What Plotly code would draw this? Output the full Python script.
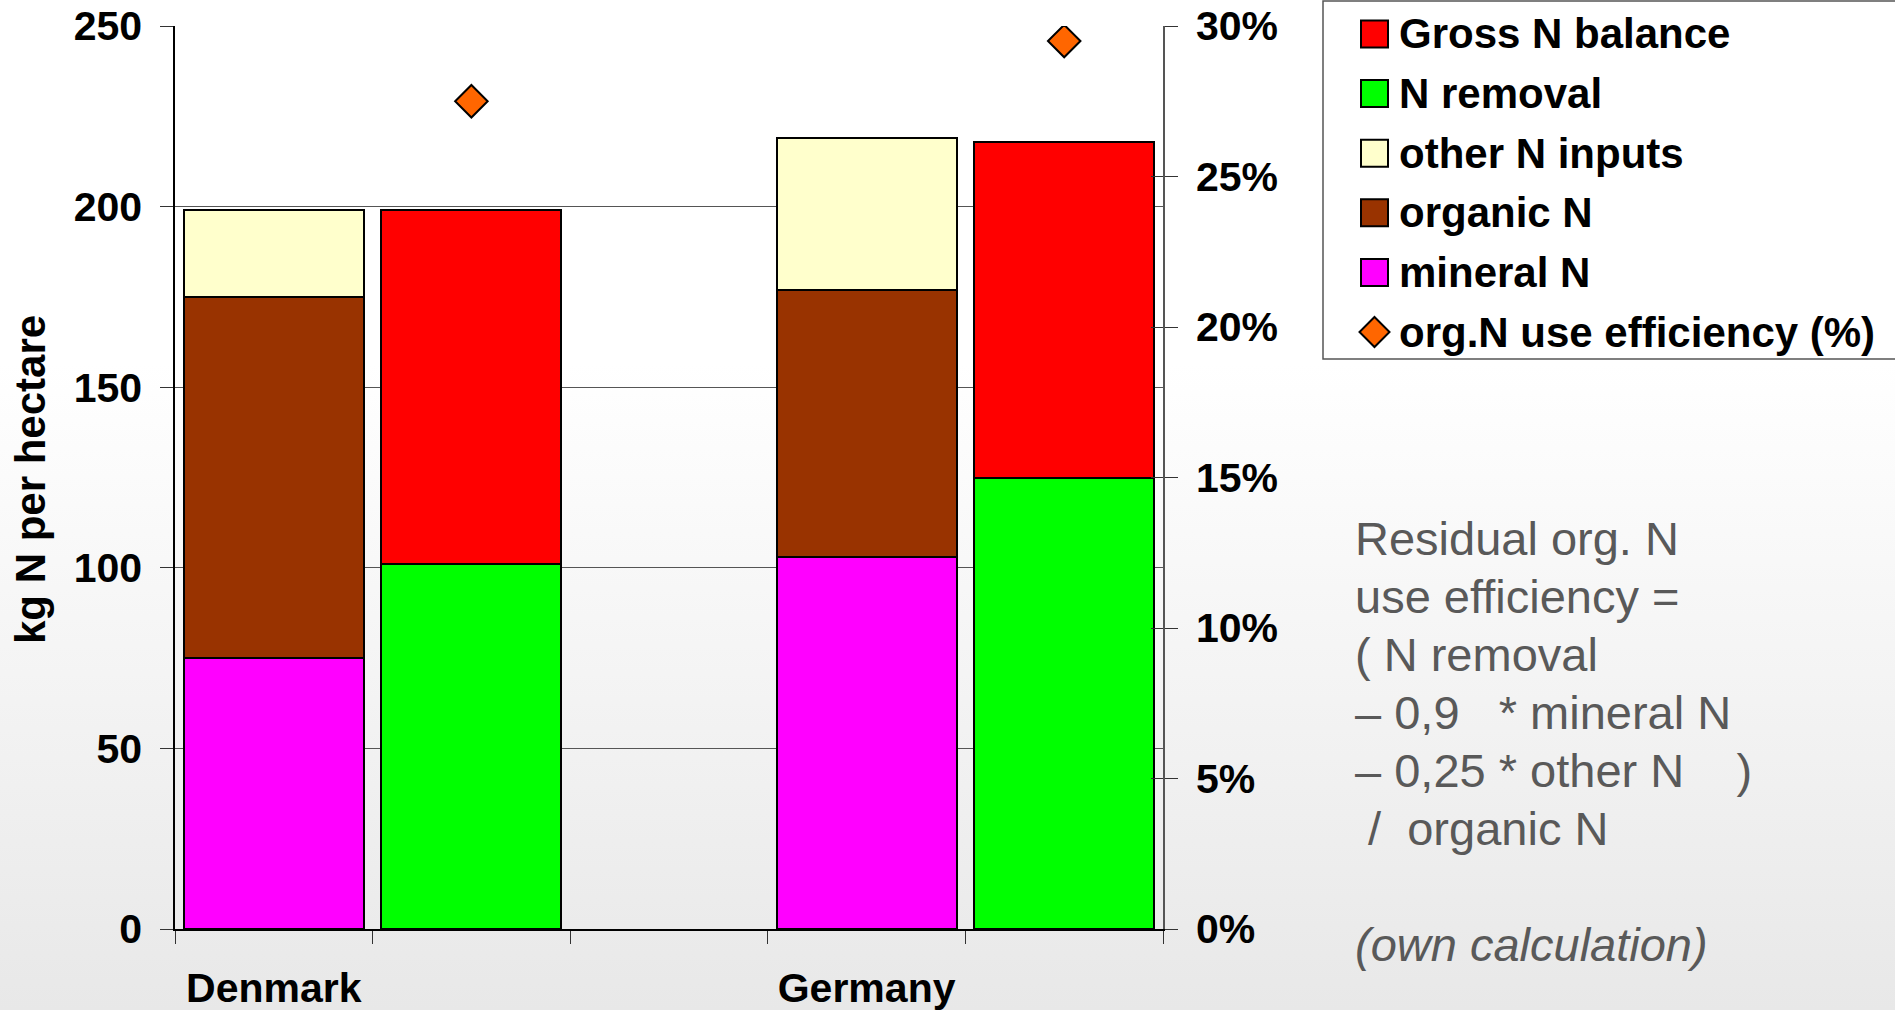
import base64
import plotly.graph_objects as go

# ---- data (kg N per hectare) ----
countries = ["Denmark", "Germany"]
mineral_n = [75, 103]
organic_n = [100, 74]
other_n = [24, 42]
n_removal = [101, 125]
gross_balance = [98, 93]
org_n_efficiency = [27.5, 29.5]  # %

y_ticks = [0, 50, 100, 150, 200, 250]
y2_ticks = [0, 5, 10, 15, 20, 25, 30]
y2_labels = [f"{v}%" for v in y2_ticks]

legend_labels = ["Gross N balance", "N removal", "other N inputs",
                 "organic N", "mineral N", "org.N use efficiency (%)"]

note_lines = ["Residual org. N", "use efficiency =", "( N removal",
              "\u2013 0,9\u00a0\u00a0\u00a0* mineral N",
              "\u2013 0,25 * other N\u00a0\u00a0\u00a0\u00a0)",
              "\u00a0/\u00a0\u00a0organic N"]
note_source = "(own calculation)"

C_MINERAL = "#FF00FF"
C_ORGANIC = "#993300"
C_OTHER = "#FFFFCC"
C_REMOVAL = "#00FF00"
C_BALANCE = "#FF0000"
C_EFF = "#FF6600"

FONT = "Liberation Sans, Arial, sans-serif"

# ---- page geometry ----
W, H = 1895, 1010
ML, MR, MT, MB = 175, 732, 26, 81
PW, PH = W - ML - MR, H - MT - MB


def px(x):
    return (x - ML) / PW


def py(y):
    return (H - MB - y) / PH


# each country gets an input slot and an output slot, with one empty slot between
input_x = [3 * i for i in range(len(countries))]
output_x = [3 * i + 1 for i in range(len(countries))]
n_slots = 3 * len(countries) - 1
boundaries = [k - 0.5 for k in range(n_slots + 1)]

bar_line = dict(color="black", width=2)

fig = go.Figure()
fig.add_bar(x=input_x, y=mineral_n, name="mineral N",
            marker=dict(color=C_MINERAL, line=bar_line))
fig.add_bar(x=input_x, y=organic_n, name="organic N",
            marker=dict(color=C_ORGANIC, line=bar_line))
fig.add_bar(x=input_x, y=other_n, name="other N inputs",
            marker=dict(color=C_OTHER, line=bar_line))
fig.add_bar(x=output_x, y=n_removal, name="N removal",
            marker=dict(color=C_REMOVAL, line=bar_line))
fig.add_bar(x=output_x, y=gross_balance, name="Gross N balance",
            marker=dict(color=C_BALANCE, line=bar_line))
fig.add_scatter(x=output_x, y=org_n_efficiency, yaxis="y2", mode="markers",
                name="org.N use efficiency (%)",
                marker=dict(symbol="diamond", size=25, color=C_EFF,
                            line=dict(color="black", width=2)))
# empty trace so the inner tick marks of the right axis get drawn
fig.add_scatter(x=[], y=[], yaxis="y3", showlegend=False, hoverinfo="skip")

tick_font = dict(family=FONT, size=41, color="black", weight="bold")

# soft vertical background gradient
svg = ('<svg xmlns="http://www.w3.org/2000/svg" width="10" height="1010" '
       'viewBox="0 0 10 1010" preserveAspectRatio="none">'
       '<defs><linearGradient id="g" x1="0" y1="0" x2="0" y2="1">'
       '<stop offset="0.36" stop-color="#ffffff"/>'
       '<stop offset="1" stop-color="#e8e8e8"/></linearGradient></defs>'
       '<rect width="10" height="1010" fill="url(#g)"/></svg>')
bg_src = "data:image/svg+xml;base64," + base64.b64encode(svg.encode()).decode()

# ---- legend box drawn by hand (large swatches) ----
shapes = [dict(type="rect", xref="paper", yref="paper",
               x0=px(1323), x1=px(1905), y0=py(359), y1=py(1),
               line=dict(color="#555555", width=1.5), fillcolor="white",
               layer="above")]
annotations = []
legend_colors = [C_BALANCE, C_REMOVAL, C_OTHER, C_ORGANIC, C_MINERAL]
row_y = [34 + 59.6 * i for i in range(len(legend_labels))]
for i, label in enumerate(legend_labels):
    yc = row_y[i]
    if i < len(legend_colors):
        shapes.append(dict(type="rect", xref="paper", yref="paper",
                           x0=px(1361), x1=px(1388), y0=py(yc + 13.5), y1=py(yc - 13.5),
                           line=dict(color="black", width=2),
                           fillcolor=legend_colors[i], layer="above"))
    else:
        cx = 1374.5
        path = (f"M {px(cx)} {py(yc - 15)} L {px(cx + 15)} {py(yc)} "
                f"L {px(cx)} {py(yc + 15)} L {px(cx - 15)} {py(yc)} Z")
        shapes.append(dict(type="path", xref="paper", yref="paper", path=path,
                           line=dict(color="black", width=2),
                           fillcolor=C_EFF, layer="above"))
    annotations.append(dict(x=px(1397), y=py(yc), xref="paper", yref="paper",
                            text=label, showarrow=False, xanchor="left",
                            yanchor="middle",
                            font=dict(family=FONT, size=42, color="black",
                                      weight="bold")))

# axis title
annotations.append(dict(x=px(30), y=py(480), xref="paper", yref="paper",
                        text="kg N per hectare", textangle=-90, showarrow=False,
                        xanchor="center", yanchor="middle",
                        font=dict(family=FONT, size=42, color="black",
                                  weight="bold")))

# explanatory note, one line per annotation
note_font = dict(family=FONT, size=47, color="#595959")
for i, line in enumerate(note_lines):
    annotations.append(dict(x=px(1353), y=py(538 + 58 * i), xref="paper",
                            yref="paper", text=line, showarrow=False,
                            xanchor="left", yanchor="middle", font=note_font))
annotations.append(dict(x=px(1353), y=py(944), xref="paper", yref="paper",
                        text=f"<i>{note_source}</i>", showarrow=False,
                        xanchor="left", yanchor="middle", font=note_font))

fig.update_layout(
    width=W, height=H,
    margin=dict(l=ML, r=MR, t=MT, b=MB, pad=0, autoexpand=False),
    paper_bgcolor="white",
    plot_bgcolor="rgba(0,0,0,0)",
    barmode="stack",
    bargap=0.09,
    showlegend=False,
    images=[dict(source=bg_src, xref="paper", yref="paper",
                 x=px(0), y=py(0), sizex=W / PW, sizey=H / PH,
                 xanchor="left", yanchor="top", sizing="stretch",
                 layer="below")],
    xaxis=dict(range=[-0.5, n_slots - 0.5], tickvals=input_x,
               ticktext=countries, ticks="", tickfont=tick_font,
               ticklabelstandoff=22, automargin=False,
               minor=dict(tickvals=boundaries, ticks="outside", ticklen=13,
                          tickcolor="#333333", showgrid=False),
               showgrid=False, zeroline=False,
               showline=True, linecolor="black", linewidth=1.5),
    yaxis=dict(range=[0, 250], tickvals=y_ticks, ticks="outside", ticklen=13,
               tickcolor="#333333", tickfont=tick_font, ticklabelstandoff=10,
               automargin=False,
               showgrid=True, gridcolor="#555555", gridwidth=1,
               zeroline=False, showline=True, linecolor="black", linewidth=1.5),
    yaxis2=dict(range=[0, 30], tickvals=y2_ticks, ticktext=y2_labels,
                overlaying="y", side="right", anchor="x",
                ticks="outside", ticklen=13, tickcolor="#333333",
                tickfont=tick_font, ticklabelstandoff=10, automargin=False,
                showgrid=False, zeroline=False, showline=True,
                linecolor="#555555", linewidth=1.5),
    yaxis3=dict(range=[0, 30], tickvals=y2_ticks, overlaying="y", side="right",
                anchor="x", ticks="inside", ticklen=12, tickcolor="#333333",
                showticklabels=False, showgrid=False, zeroline=False,
                showline=False, automargin=False),
    shapes=shapes,
    annotations=annotations,
)

fig.write_html("out.html")
